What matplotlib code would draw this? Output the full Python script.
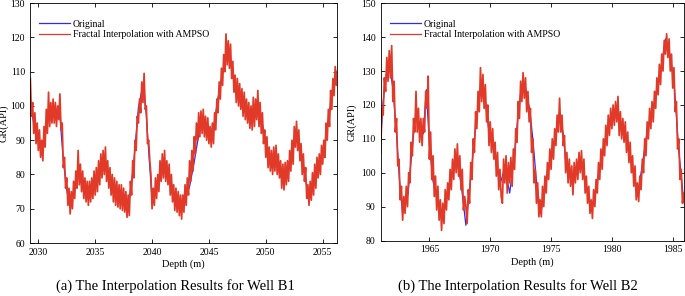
import numpy as np
import matplotlib
matplotlib.use("Agg")
from matplotlib import pyplot as plt

plt.rcParams['font.family'] = ['Liberation Serif', 'DejaVu Serif']

# Well B1: original log (blue), read at irregular depths
b1_depth = [2029.3, 2029.6, 2030.0, 2030.3, 2030.9, 2031.35, 2031.9, 2032.2, 2032.5, 2032.8,
            2033.1, 2033.55, 2034.0, 2034.4, 2035.0, 2035.75, 2036.2, 2036.8, 2037.5, 2037.9,
            2038.35, 2038.8, 2039.1, 2039.3, 2039.5, 2039.7, 2040.0, 2040.45, 2040.9, 2041.5,
            2042.1, 2042.7, 2043.3, 2043.7, 2044.2, 2044.6, 2045.0, 2045.3, 2045.75, 2046.2,
            2046.6, 2046.9, 2047.3, 2047.8, 2048.35, 2048.8, 2049.2, 2049.65, 2050.1, 2050.5,
            2051.0, 2051.4, 2051.85, 2052.3, 2052.6, 2052.9, 2053.3, 2053.75, 2054.2, 2054.6,
            2055.05, 2055.5, 2055.9, 2056.3]
b1_orig = [101, 95, 90, 87, 97, 98.5, 97, 84, 75.5, 70.5,
           74.5, 81, 76.5, 74.5, 78, 84, 79, 74.5, 72.5, 70,
           82, 99.5, 104.5, 104.5, 97, 87, 72.5, 76.5, 82, 80,
           72.5, 70.5, 76.5, 83.5, 93.5, 95.5, 93.5, 91, 101.5, 109.5,
           115.5, 113.5, 105.5, 102.5, 98, 96.5, 99.5, 95.5, 88, 83.5,
           85, 79.5, 80, 86, 92, 90, 82.5, 73.5, 78, 82.5,
           86, 96, 105.5, 110.5]

# Well B1: fractal interpolation (red), every 0.1 m from 2029.3 m (one row per metre)
b1_fract = [108, 97, 101, 92, 98, 89, 95, 87, 93, 85,
            90, 84, 94, 88, 99, 92, 104, 94, 101, 95,
            102, 95, 101, 94, 100, 96, 103.5, 93, 95, 82,
            85, 76, 79, 71, 76, 68.5, 75, 70, 78, 73,
            81, 76, 87, 77, 83, 75, 81, 73, 79, 72,
            78, 71, 78, 72, 79, 73, 81, 74, 82, 75,
            84, 77, 86, 79, 87, 80, 88, 78, 84, 76,
            82, 74, 80, 72, 79, 71, 78, 70.5, 77, 70,
            77, 69.5, 76, 69, 75, 67.5, 74, 68, 78, 74,
            84, 79, 90, 87, 97, 95, 102, 98, 107, 101,
            109.5, 99, 100, 89, 90, 84, 80, 70, 76, 71,
            79, 73, 80, 75, 84, 78, 86, 79, 87, 78,
            84, 77, 83, 74, 80, 72, 77, 69.5, 76, 69,
            75, 68, 74, 67, 74, 69, 77, 71, 79, 74,
            84, 78, 87, 81, 91, 86, 95, 90, 98, 91,
            98.5, 92, 99, 91, 97, 90, 96.5, 89, 94, 88,
            95, 89, 98, 93, 102, 98, 107, 102, 111, 106,
            115, 110, 121, 112, 119, 111, 118, 108, 113, 104,
            109, 101, 108, 100, 106.5, 99, 105, 97, 104, 96,
            102, 95, 101, 93.5, 100, 93, 102.5, 94, 102, 96,
            104.5, 94, 101, 92, 98, 89, 93, 85, 91, 82,
            88, 81, 87, 80, 88, 81, 88.5, 80, 86, 79,
            84, 76, 83, 75.5, 83.5, 77, 84, 78, 87, 81,
            90, 83, 94, 88, 95.5, 87, 93, 84, 89, 80,
            86, 78, 82, 73, 77, 71, 78, 72.5, 80.5, 74,
            83, 76, 85, 79, 86, 80, 88.5, 83, 90, 85,
            95, 90, 99, 94, 104.5, 99, 108, 103, 111.5, 106,
            110]

# Well B2: original log (blue)
b2_depth = [1961.0, 1961.2, 1961.45, 1961.7, 1962.0, 1962.3, 1962.55, 1962.8, 1963.25, 1963.65,
            1963.9, 1964.2, 1964.5, 1964.75, 1965.0, 1965.3, 1965.7, 1966.0, 1966.4, 1966.8,
            1967.2, 1967.6, 1968.0, 1968.45, 1968.85, 1969.25, 1969.55, 1969.95, 1970.2, 1970.5,
            1970.8, 1971.2, 1971.6, 1972.0, 1972.3, 1972.55, 1972.85, 1973.25, 1973.5, 1973.8,
            1974.15, 1974.5, 1974.9, 1975.3, 1975.7, 1976.0, 1976.25, 1976.65, 1977.05, 1977.5,
            1977.9, 1978.3, 1978.7, 1979.1, 1979.55, 1979.95, 1980.35, 1980.6, 1981.0, 1981.45,
            1981.85, 1982.1, 1982.55, 1982.95, 1983.4, 1983.65, 1984.05, 1984.4, 1984.7, 1985.1,
            1985.5, 1985.9]
b2_orig = [110, 121, 129, 132, 125, 111.5, 97.5, 88, 94, 109.5,
           118, 113.5, 111.5, 124.5, 108.5, 97.5, 91, 86.5, 93, 99.5,
           104.5, 97, 84.5, 100.5, 115.5, 126, 122.5, 110.5, 108.5, 102.5,
           96.5, 101.5, 94, 105.5, 117.5, 125, 126, 118.5, 110, 97.5,
           88, 95.5, 103.5, 109.5, 117.5, 111.5, 101.5, 98.5, 100.5, 103.5,
           96, 88.5, 95.5, 103.5, 111.5, 116.5, 119, 114.5, 112.5, 105.5,
           98.5, 93, 103.5, 113.5, 118.5, 124, 131, 139.5, 136, 127,
           106.5, 91.5]

# Well B2: fractal interpolation (red), every 0.1 m from 1961.0 m (one row per metre)
b2_fract = [106, 119, 117, 128, 124, 134, 127, 136, 128, 137.5,
            121, 127, 112, 116, 102, 104, 92, 96, 86, 93,
            88, 96, 90, 100, 97, 109, 105, 116, 112, 124,
            112, 119, 109, 116, 108, 116, 112, 124, 119, 128.5,
            104, 112, 98, 105, 93, 99, 89, 96, 86, 92,
            83, 91, 85, 95, 89, 97, 92, 101, 95, 104,
            98, 107, 100, 108.5, 99, 105, 95, 101, 89, 93,
            90, 85, 95, 91, 103, 98, 110, 106, 118, 113,
            124, 118, 131, 121, 129, 119, 126, 115, 120, 108,
            115, 106, 113, 104, 109, 99, 106, 95, 101, 93,
            91, 104, 97, 105, 94, 103, 97, 104.5, 96, 107,
            101, 113, 109, 121, 116, 127, 121, 129.5, 122, 128,
            118, 124, 115, 119, 106, 110, 97, 101, 91, 97,
            87, 92, 87, 96, 90, 99, 94, 103, 98, 107,
            101, 110, 104, 113, 108, 117, 112, 122, 112, 117,
            108, 111, 100, 106, 97, 104, 96, 102, 93.5, 103,
            97, 104, 98, 106, 100, 106.5, 98, 104, 94, 99,
            91, 96, 88, 92, 86.5, 95, 90, 98, 94, 103,
            98, 107, 101, 110, 105, 114, 108, 117, 111, 119,
            113, 120, 114, 121, 115, 122.5, 111, 118, 110, 116,
            109, 115, 106, 112, 103, 109, 100, 105, 96, 102,
            92, 97, 91.5, 99, 95, 104, 100, 110, 105, 115,
            110, 119, 113, 121, 115, 124, 119, 128, 123, 132,
            126, 135, 130, 139, 135, 141, 134, 139.5, 130, 135,
            125, 131, 118, 121, 107, 110, 98, 101, 91, 94,
            90]

panels = [
    dict(depth=b1_depth, orig=b1_orig, fract=b1_fract, start=2029.3, step=0.1,
         xlim=(2029.27, 2056.26), ylim=(60, 130), xticks=[2030, 2035, 2040, 2045, 2050, 2055],
         yticks=[60, 70, 80, 90, 100, 110, 120, 130],
         rect=[0.0438, 0.179, 0.4482, 0.8105], ylab_x=-0.071,
         caption='(a) The Interpolation Results for Well B1', cx=0.256),
    dict(depth=b2_depth, orig=b2_orig, fract=b2_fract, start=1961.0, step=0.1,
         xlim=(1961.0, 1985.93), ylim=(80, 150), xticks=[1965, 1970, 1975, 1980, 1985],
         yticks=[80, 90, 100, 110, 120, 130, 140, 150],
         rect=[0.5558, 0.1875, 0.4428, 0.8014], ylab_x=-0.078,
         caption='(b) The Interpolation Results for Well B2', cx=0.756),
]

fig = plt.figure(figsize=(6.85, 2.96), dpi=100)

for p in panels:
    ax = fig.add_axes(p['rect'])
    fx = p['start'] + p['step'] * np.arange(len(p['fract']))
    ax.plot(p['depth'], p['orig'], color='#2b2bff', lw=0.9, label='Original')
    ax.plot(fx, p['fract'], color='#e23a28', lw=1.25,
            label='Fractal Interpolation with AMPSO')
    ax.set_xlim(*p['xlim'])
    ax.set_ylim(*p['ylim'])
    ax.set_xticks(p['xticks'])
    ax.set_yticks(p['yticks'])
    ax.tick_params(direction='in', top=True, right=True, labelsize=7, length=3, width=0.6)
    for s in ax.spines.values():
        s.set_linewidth(0.6)
    ax.set_xlabel('Depth (m)', fontsize=7.5, labelpad=2)
    ax.set_ylabel('GR(API)', fontsize=7.5)
    ax.yaxis.set_label_coords(p['ylab_x'], 0.5)
    leg = ax.legend(loc='upper left', bbox_to_anchor=(0.01, 0.955), frameon=False, fontsize=7,
                    handlelength=3.2, handletextpad=0.3, labelspacing=0.15, borderaxespad=0.2)
    for h in leg.get_lines():
        h.set_linewidth(0.9)
    fig.text(p['cx'], 0.035, p['caption'], ha='center', va='center', fontsize=10.5)

fig.savefig('out.png', dpi=100)
